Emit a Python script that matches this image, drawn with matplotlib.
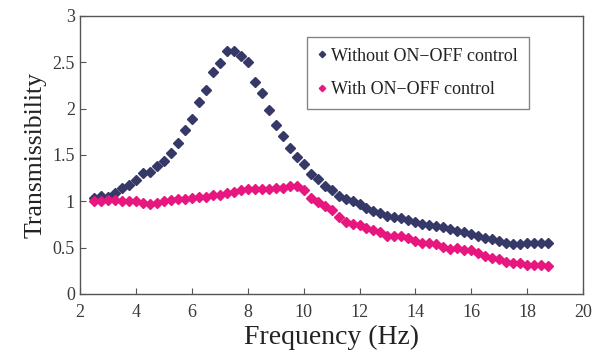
import numpy as np
import matplotlib
matplotlib.use("Agg")
import matplotlib.pyplot as plt

# frequency points (Hz), 0.25 Hz apart from 2.5 to 18.75
freq = [2.5, 2.75, 3.0, 3.25, 3.5, 3.75, 4.0, 4.25, 4.5, 4.75,
        5.0, 5.25, 5.5, 5.75, 6.0, 6.25, 6.5, 6.75, 7.0, 7.25,
        7.5, 7.75, 8.0, 8.25, 8.5, 8.75, 9.0, 9.25, 9.5, 9.75,
        10.0, 10.25, 10.5, 10.75, 11.0, 11.25, 11.5, 11.75, 12.0, 12.25,
        12.5, 12.75, 13.0, 13.25, 13.5, 13.75, 14.0, 14.25, 14.5, 14.75,
        15.0, 15.25, 15.5, 15.75, 16.0, 16.25, 16.5, 16.75, 17.0, 17.25,
        17.5, 17.75, 18.0, 18.25, 18.5, 18.75]

without_ctrl = [1.04, 1.06, 1.05, 1.09, 1.14, 1.18, 1.23, 1.30, 1.32, 1.38,
                1.43, 1.52, 1.63, 1.77, 1.89, 2.07, 2.20, 2.39, 2.49, 2.62,
                2.62, 2.57, 2.50, 2.29, 2.17, 1.98, 1.82, 1.70, 1.58, 1.48,
                1.40, 1.29, 1.24, 1.16, 1.12, 1.06, 1.03, 1.00, 0.97, 0.93,
                0.90, 0.87, 0.84, 0.83, 0.82, 0.80, 0.78, 0.76, 0.74, 0.73,
                0.72, 0.70, 0.68, 0.67, 0.65, 0.63, 0.60, 0.59, 0.57, 0.55,
                0.54, 0.54, 0.55, 0.55, 0.55, 0.55]

with_ctrl = [1.00, 1.00, 1.01, 1.01, 1.00, 1.00, 1.00, 0.98, 0.97, 0.98,
             1.00, 1.01, 1.02, 1.02, 1.04, 1.05, 1.05, 1.07, 1.07, 1.09,
             1.10, 1.12, 1.13, 1.13, 1.13, 1.13, 1.14, 1.14, 1.16, 1.16,
             1.12, 1.04, 0.99, 0.95, 0.91, 0.83, 0.78, 0.75, 0.74, 0.71,
             0.69, 0.67, 0.63, 0.62, 0.62, 0.60, 0.57, 0.55, 0.55, 0.54,
             0.51, 0.49, 0.50, 0.47, 0.47, 0.44, 0.41, 0.39, 0.38, 0.35,
             0.33, 0.33, 0.31, 0.31, 0.31, 0.30]

x_ticks = [2, 4, 6, 8, 10, 12, 14, 16, 18, 20]
y_ticks = [0, 0.5, 1, 1.5, 2, 2.5, 3]
y_tick_labels = ["0", "0.5", "1", "1.5", "2", "2.5", "3"]

plt.rcParams['font.family'] = ['Liberation Serif', 'DejaVu Serif']

fig = plt.figure(figsize=(6.05, 3.55), dpi=100)
ax = fig.add_axes([0.132, 0.172, 0.832, 0.783])

ax.plot(freq, without_ctrl, linestyle='none', marker='D', ms=5,
        color='#363868', label='Without ON\u2212OFF control')
ax.plot(freq, with_ctrl, linestyle='none', marker='D', ms=5,
        color='#e8177f', label='With ON\u2212OFF control')

ax.set_xlim(2, 20)
ax.set_ylim(0, 3)
ax.set_xticks(x_ticks)
ax.set_yticks(y_ticks)
ax.set_yticklabels(y_tick_labels)
ax.tick_params(direction='in', length=4, labelsize=13, color='#555555',
               labelcolor='#3a3a3a')
ax.tick_params(axis='x', pad=7)
for s in ax.spines.values():
    s.set_color('#555555')
    s.set_linewidth(1.0)

ax.set_xlabel('Frequency (Hz)', fontsize=20, color='#222222', labelpad=3)
ax.set_ylabel('Transmissibility', fontsize=18.5, color='#222222', labelpad=4)

leg = ax.legend(loc='upper left', bbox_to_anchor=(0.451, 0.925),
                fontsize=13, fancybox=False, frameon=True, edgecolor='#666666',
                markerscale=0.65, handlelength=0.5, handletextpad=0.25,
                borderpad=0.6, labelspacing=0.9, borderaxespad=0)
leg.get_frame().set_linewidth(1.0)
for t in leg.get_texts():
    t.set_color('#222222')

fig.savefig('out.png', dpi=100)
